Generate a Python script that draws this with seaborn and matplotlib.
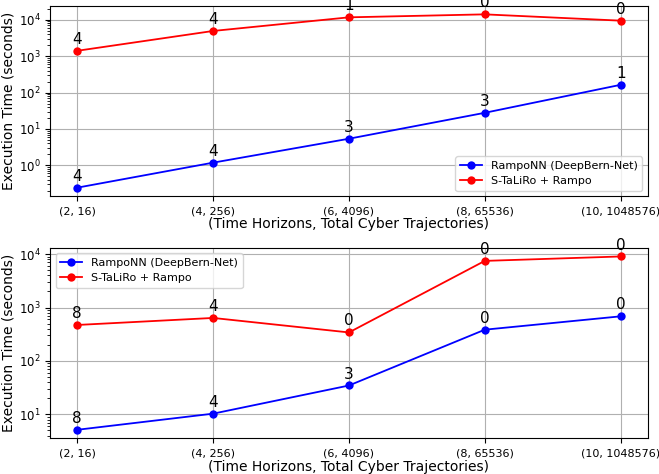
import pandas as pd
import matplotlib
matplotlib.use("Agg")
import matplotlib.pyplot as plt
import seaborn as sns

horizons = ["(2, 16)", "(4, 256)", "(6, 4096)", "(8, 65536)", "(10, 1048576)"]
methods = ["RampoNN (DeepBern-Net)", "S-TaLiRo + Rampo"]
colors = {"RampoNN (DeepBern-Net)": "blue", "S-TaLiRo + Rampo": "red"}

# top panel
top_rampo = [0.245, 1.19, 5.4, 27.8, 163]
top_staliro = [1400, 4900, 11600, 14000, 9400]
top_rampo_lbl = [4, 4, 3, 3, 1]
top_staliro_lbl = [4, 4, 1, 0, 0]

# bottom panel
bot_rampo = [5.14, 10.3, 34.7, 385, 685]
bot_staliro = [472, 639, 342, 7480, 9050]
bot_rampo_lbl = [8, 4, 3, 0, 0]
bot_staliro_lbl = [8, 4, 0, 0, 0]


def make_df(rampo, staliro):
    return pd.DataFrame({
        "horizon": horizons * 2,
        "time": rampo + staliro,
        "method": [methods[0]] * len(horizons) + [methods[1]] * len(horizons),
    })


fig, axes = plt.subplots(2, 1, figsize=(6.59, 4.74), dpi=100)

panels = [
    (axes[0], top_rampo, top_staliro, top_rampo_lbl, top_staliro_lbl, "lower right"),
    (axes[1], bot_rampo, bot_staliro, bot_rampo_lbl, bot_staliro_lbl, "upper left"),
]

for ax, rampo, staliro, r_lbl, s_lbl, loc in panels:
    df = make_df(rampo, staliro)
    sns.lineplot(data=df, x="horizon", y="time", hue="method", palette=colors,
                 marker="o", markersize=6, markeredgewidth=0, linewidth=1.3,
                 sort=False, ax=ax)
    ax.set_yscale("log")
    for i, h in enumerate(horizons):
        ax.annotate(str(r_lbl[i]), (i, rampo[i]), textcoords="offset points",
                    xytext=(0, 5), ha="center", fontsize=11)
        ax.annotate(str(s_lbl[i]), (i, staliro[i]), textcoords="offset points",
                    xytext=(0, 5), ha="center", fontsize=11, annotation_clip=False)
    ax.grid(True, color="#b0b0b0", linewidth=0.8)
    ax.set_xlabel("(Time Horizons, Total Cyber Trajectories)", fontsize=10, labelpad=1)
    ax.set_ylabel("Execution Time (seconds)", fontsize=10, labelpad=2)
    ax.tick_params(axis="x", labelsize=8)
    ax.tick_params(axis="y", labelsize=8.5)
    ax.legend(loc=loc, fontsize=8)

plt.subplots_adjust(left=0.076, right=0.983, top=0.988, bottom=0.075, hspace=0.27)
plt.savefig("out.png", dpi=100)
